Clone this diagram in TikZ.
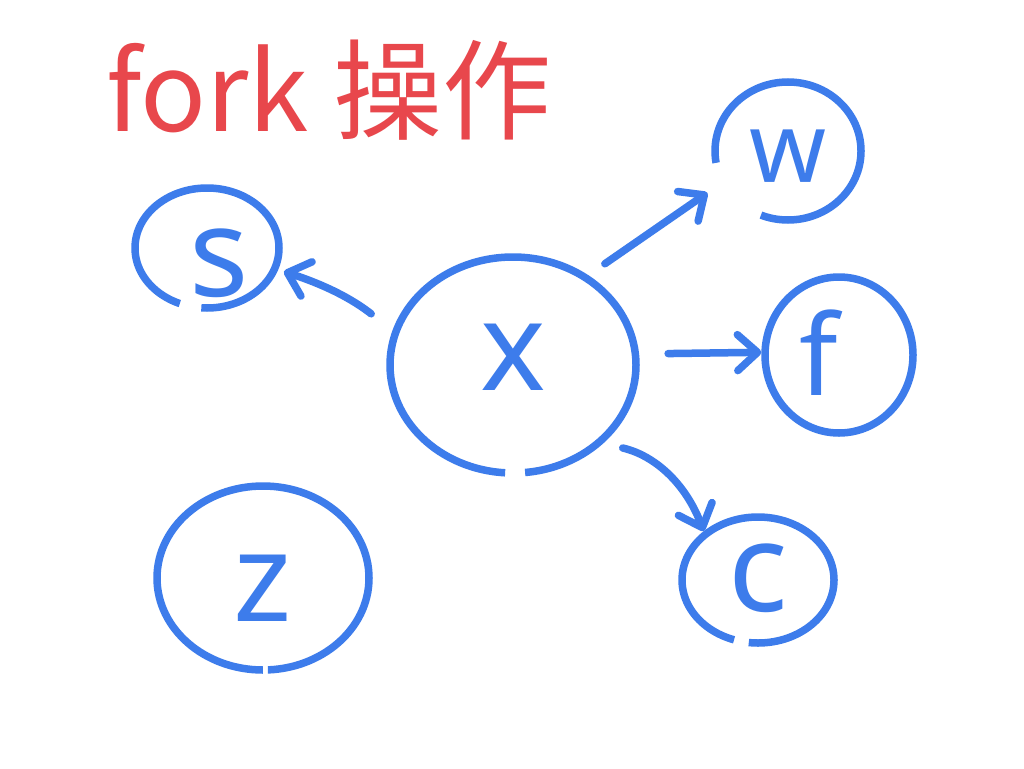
\documentclass[tikz,border=0pt]{standalone}
\usepackage{fontspec}
\setsansfont{Noto Sans}
\newfontfamily\cjk{Noto Sans CJK SC}
\usetikzlibrary{shapes.geometric,arrows.meta}
\definecolor{pen}{HTML}{3D7CEB}
\definecolor{ink}{HTML}{E8474C}
\tikzset{
  bubble/.style={ellipse, draw=pen, line width=7.5pt, inner sep=0pt},
  letter/.style={text=pen, inner sep=0pt, font=\sffamily\fontsize{124}{124}\selectfont},
  link/.style={draw=pen, line width=7.5pt, line cap=round,
    -{Straight Barb[length=20pt,width=36pt,round]}},
  heading/.style={text=ink, font=\cjk\fontsize{109}{109}\selectfont, inner sep=0pt},
}
\begin{document}
\begin{tikzpicture}[x=1pt,y=-1pt]
\fill[white] (0,0) rectangle (1024,768);
\useasboundingbox (0,0) rectangle (1024,768);

% title
\node[heading, anchor=west] (title) at (106,90) {fork 操作};

% processes (outline with the pen gap, letter placed as a label)
\node[bubble, minimum width=246pt, minimum height=216pt,
      dash pattern=on 537pt off 20pt on 400pt,
      label={[letter, yshift=8pt]center:x}] (x) at (513,365) {};
\node[bubble, minimum width=144pt, minimum height=120pt,
      dash pattern=on 284pt off 22pt on 400pt,
      label={[letter, xshift=12pt, yshift=-15pt]center:s}] (s) at (207,248) {};
\node[bubble, minimum width=146pt, minimum height=138pt,
      dash pattern=on 235pt off 72pt on 400pt,
      label={[letter, font=\sffamily\fontsize{98}{98}\selectfont, yshift=-5pt]center:w}] (w) at (788,151) {};
\node[bubble, minimum width=148pt, minimum height=156pt,
      label={[letter, font=\sffamily\fontsize{112}{112}\selectfont, xshift=-20pt, yshift=2pt]center:f}] (f) at (839,355) {};
\node[bubble, minimum width=152pt, minimum height=126pt,
      dash pattern=on 304pt off 15pt on 300pt,
      label={[letter, yshift=2pt]center:c}] (c) at (758,580) {};
\node[bubble, minimum width=212pt, minimum height=184pt,
      dash pattern=on 467pt off 5pt on 300pt,
      label={[letter, yshift=-10pt]center:z}] (z) at (263,578) {};

% fork arrows
\draw[link, shorten <=27pt, shorten >=6pt] (x.164) to[bend right=10] (s.-17);
\draw[link, shorten <=20pt, shorten >=15pt] (x.50) -- (w.206);
\draw[link, shorten <=29pt] (x.5) -- (f.178);
\draw[link, shorten <=20pt] (x.-41.5) to[bend left=28] (c.138);
\end{tikzpicture}
\end{document}
